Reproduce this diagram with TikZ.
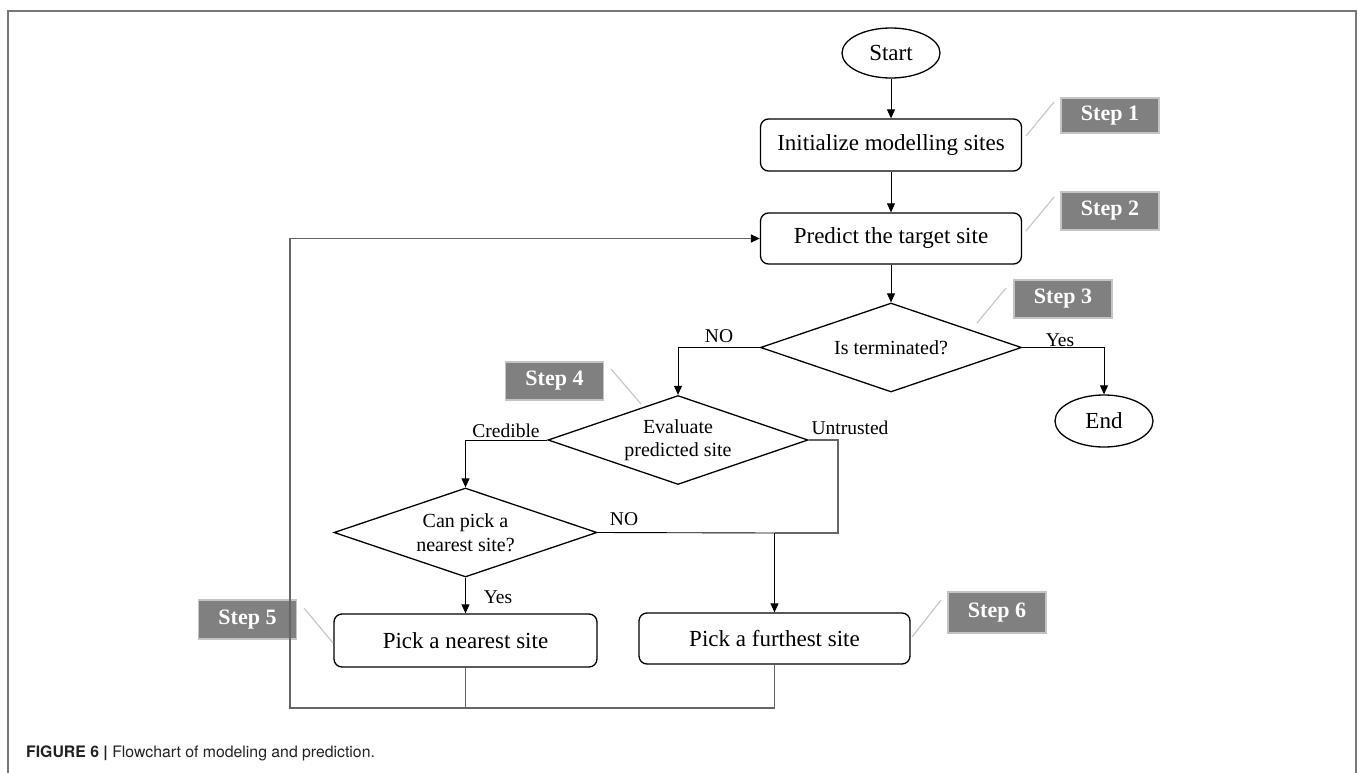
\documentclass[tikz,border=0pt]{standalone}
\usepackage{fontspec}
\setmainfont{Liberation Serif}
\newfontfamily\capfont{TeX Gyre Heros}
\usetikzlibrary{shapes.geometric,arrows.meta}
\definecolor{stepgray}{HTML}{808080}
\definecolor{stepedge}{HTML}{C4C4C4}
\definecolor{leadgray}{HTML}{C8C8C8}
\definecolor{framegray}{HTML}{777777}
\definecolor{loopgray}{HTML}{666666}
\definecolor{capcol}{HTML}{222222}
\tikzset{
  procbox/.style={draw=black, line width=1.3pt, rounded corners=8pt, inner sep=0pt,
    minimum width=261pt, minimum height=52pt, font=\fontsize{23}{26}\selectfont},
  termnode/.style={ellipse, draw=black, line width=1.3pt, inner sep=0pt,
    minimum width=98pt, minimum height=50pt, font=\fontsize{23}{26}\selectfont},
  decnode/.style={diamond, aspect=3, draw=black, line width=1.3pt, inner sep=0pt, align=center,
    minimum width=261pt, minimum height=89pt, font=\fontsize{20}{23.5}\selectfont},
  steplabel/.style={fill=stepgray, draw=stepedge, line width=1.5pt, text=white, inner sep=0pt,
    minimum width=98pt, minimum height=38pt, font=\fontsize{22}{24}\selectfont\bfseries},
  leader/.style={draw=leadgray, line width=1.2pt},
  tip/.style={-{Triangle[length=9pt,width=8pt,color=black,fill=black]}},
  flow/.style={draw=black, line width=0.9pt, tip},
  loopline/.style={draw=loopgray, line width=1.5pt},
  edgelabel/.style={inner sep=0pt, font=\fontsize{19.5}{22}\selectfont},
}
\begin{document}
\begin{tikzpicture}[x=1pt,y=-1pt]
\useasboundingbox (0,0) rectangle (1357,773);
\fill[white] (0,0) rectangle (1357,773);
% frame
\draw[framegray, line width=1.6pt] (8,773) -- (8,11) -- (1356,11) -- (1356,773);

% nodes
\node[termnode] (start) at (891,53) {Start};
\node[procbox] (init) at (891,145) {Initialize modelling sites};
\node[procbox, minimum height=51pt] (pred) at (891,238.5) {Predict the target site};
\node[decnode] (term) at (891,347.5) {Is terminated?};
\node[termnode, minimum height=52pt] (end) at (1104,421) {End};
\node[decnode, minimum width=260pt] (eval) at (678,440) {Evaluate\\predicted site};
\node[decnode, minimum width=263pt] (canpick) at (465.5,532.5) {Can pick a\\nearest site?};
\node[procbox, minimum width=263pt, minimum height=53pt] (nearest) at (465.5,640.5) {Pick a nearest site};
\node[procbox, minimum width=271pt, minimum height=51pt] (furthest) at (774.5,638.5) {Pick a furthest site};

% step labels
\node[steplabel, minimum height=35pt] (s1) at (1110,115.5) {Step 1};
\node[steplabel] (s2) at (1110,211) {Step 2};
\node[steplabel] (s3) at (1063,299) {Step 3};
\node[steplabel] (s4) at (554.5,381) {Step 4};
\node[steplabel, minimum height=39pt] (s5) at (247.5,619.5) {Step 5};
\node[steplabel, minimum height=41pt] (s6) at (997,612.5) {Step 6};

% leader lines
\coordinate (l1a) at (1026,136); \coordinate (l1b) at (1054,102);
\coordinate (l2a) at (1026,231); \coordinate (l2b) at (1054,197);
\coordinate (l3a) at (977,323);  \coordinate (l3b) at (1006,288);
\coordinate (l4a) at (611,369);  \coordinate (l4b) at (641,404);
\coordinate (l5a) at (304,608);  \coordinate (l5b) at (333,643);
\coordinate (l6a) at (912,637);  \coordinate (l6b) at (941,600);
\draw[leader] (l1a) -- (l1b);
\draw[leader] (l2a) -- (l2b);
\draw[leader] (l3a) -- (l3b);
\draw[leader] (l4a) -- (l4b);
\draw[leader] (l5a) -- (l5b);
\draw[leader] (l6a) -- (l6b);

% connectors
\draw[flow] (start) -- (init);
\draw[flow] (init) -- (pred);
\draw[flow] (pred) -- (term);
\draw[flow] (term.west) -| (eval.north);
\draw[flow] (term.east) -| (end.north);
\draw[flow] (eval.west) -| (canpick.north);
\coordinate (ucorner) at (838,533);
\coordinate (ujoin) at (774.5,533);
\draw[loopline] (eval.east) -| (ucorner) -- (ujoin);
\draw[flow] (canpick.east) -- (ujoin) -- (furthest.north);
\draw[flow] (canpick) -- (nearest);

% loop back
\coordinate (loopbl) at (290,708);
\draw[loopline] (nearest.south) -- (nearest.south |- loopbl);
\draw[loopline, tip] (furthest.south) |- (loopbl) |- (pred.west);

% edge labels
\node[edgelabel] (lno1) at (719,336) {NO};
\node[edgelabel] (lyes1) at (1060,340) {Yes};
\node[edgelabel] (lcred) at (506,431) {Credible};
\node[edgelabel] (luntr) at (850,428) {Untrusted};
\node[edgelabel] (lno2) at (624,519) {NO};
\node[edgelabel] (lyes2) at (498,597) {Yes};

% caption
\node[anchor=base west, inner sep=0pt, text=capcol, font=\capfont\fontsize{15.8}{18}\selectfont] (cap) at (26,757) {\textbf{FIGURE 6 |} Flowchart of modeling and prediction.};
\end{tikzpicture}
\end{document}
